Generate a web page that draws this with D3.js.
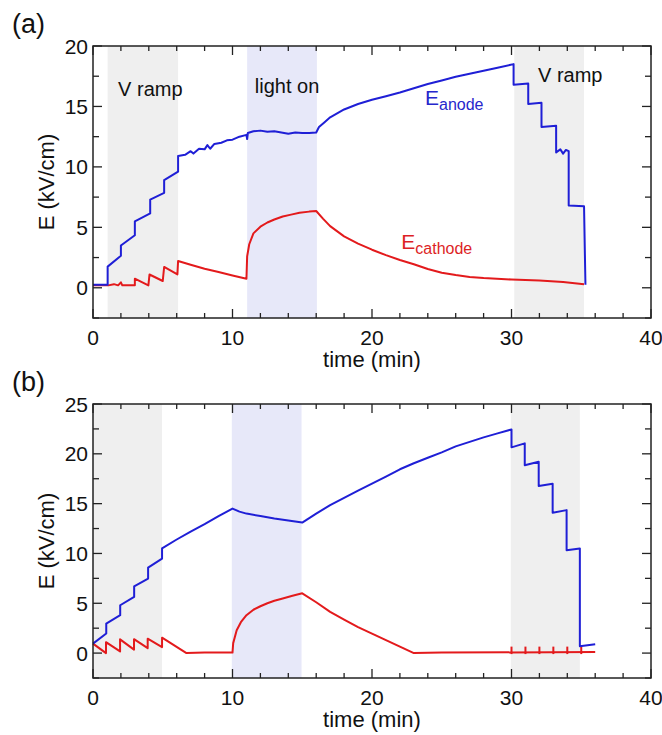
<!DOCTYPE html>
<html>
<head>
<meta charset="utf-8">
<script src="https://cdn.jsdelivr.net/npm/d3@7"></script>
<style>
  body { margin: 0; background: #fff; }
  svg { font-family: "Liberation Sans", Arial, sans-serif; }
</style>
</head>
<body>
<svg id="chart" width="662" height="735"></svg>
<script>
// ---- data (time in min, E in kV/cm) ----
var X_TICKS = [0, 10, 20, 30, 40];
var Y_TICKS_A = [0, 5, 10, 15, 20];
var Y_TICKS_B = [0, 5, 10, 15, 20, 25];

// shaded intervals [start, end, kind]
var bandsA = [[1.05, 6.1, "ramp"], [11.05, 16.05, "light"], [30.2, 35.2, "ramp"]];
var bandsB = [[0, 4.95, "ramp"], [9.95, 14.95, "light"], [29.95, 34.9, "ramp"]];

var anodeA = [
  [0, 0.25], [1.05, 0.25], [1.05, 1.75], [2.0, 2.65], [2.0, 3.5], [3.0, 4.35],
  [3.0, 5.5], [4.1, 6.15], [4.1, 7.3], [5.1, 7.85], [5.1, 8.9], [6.1, 9.6],
  [6.1, 10.9], [6.6, 11.0], [7.0, 11.3], [7.2, 11.1], [7.6, 11.5], [8.0, 11.45],
  [8.2, 11.8], [8.4, 11.5], [8.7, 11.9], [9.2, 12.0], [9.6, 12.2], [10.0, 12.25],
  [10.5, 12.5], [11.0, 12.65], [11.05, 12.3], [11.1, 12.8], [11.5, 12.95],
  [12.0, 13.0], [12.5, 12.9], [13.0, 12.95], [13.5, 12.85], [14.0, 12.75],
  [14.5, 12.85], [15.0, 12.8], [15.5, 12.8], [16.0, 12.85], [16.2, 13.3],
  [16.6, 13.7], [17, 14.1], [18, 14.75], [19, 15.2], [20, 15.55], [21, 15.85],
  [22, 16.15], [23, 16.5], [24, 16.85], [25, 17.15], [26, 17.45], [27, 17.7],
  [28, 17.95], [29, 18.2], [30.15, 18.5],
  [30.15, 16.8], [31.2, 16.9], [31.2, 15.2], [32.15, 15.3], [32.15, 13.3],
  [33.2, 13.4], [33.2, 11.2], [33.5, 11.45], [33.7, 11.1], [33.9, 11.4],
  [34.1, 11.3], [34.1, 6.8], [35.2, 6.75], [35.3, 0.25]
];

var cathodeA = [
  [0, 0.2], [1.1, 0.2], [1.5, 0.3], [1.8, 0.2], [2.0, 0.45], [2.1, 0.2],
  [3.0, 0.2], [3.0, 0.75], [3.97, 0.2], [4.05, 1.1], [5.0, 0.56], [5.1, 1.72],
  [6.05, 1.11], [6.1, 2.21], [7, 1.9], [8, 1.58], [9, 1.3], [10, 1.02],
  [11.0, 0.75], [11.05, 2.6], [11.2, 3.6], [11.5, 4.5], [12, 5.05], [12.5, 5.4],
  [13, 5.65], [13.6, 5.9], [14.2, 6.05], [14.8, 6.2], [15.5, 6.3], [16.0, 6.35],
  [16.5, 5.7], [17, 5.1], [18, 4.25], [19, 3.65], [20, 3.15], [21, 2.7],
  [22, 2.3], [23, 1.95], [24, 1.55], [25, 1.25], [26, 1.05], [27, 0.9],
  [28, 0.8], [30, 0.68], [32, 0.6], [33.7, 0.47], [35.2, 0.3]
];

var anodeB = [
  [0, 0.95], [0.95, 1.96], [0.95, 2.96], [1.95, 3.8], [1.95, 4.8], [2.95, 5.64],
  [2.95, 6.7], [3.95, 7.48], [3.95, 8.58], [4.95, 9.48], [4.95, 10.5],
  [6, 11.4], [7, 12.2], [8, 12.95], [9, 13.75], [10, 14.5],
  [10.5, 14.2], [11, 14.0], [12, 13.75], [13, 13.5], [14, 13.3], [15, 13.1],
  [16, 14.0], [17, 14.85], [18, 15.58], [19, 16.3], [20, 17.0], [21, 17.72],
  [22, 18.45], [23, 19.05], [24, 19.6], [25, 20.15], [26, 20.75], [27, 21.2],
  [28, 21.65], [29, 22.05], [30, 22.45],
  [30, 20.65], [30.95, 21.05], [30.95, 18.86], [31.95, 19.2], [31.95, 16.76],
  [32.95, 17.0], [32.95, 14.08], [33.95, 14.35], [33.95, 10.33], [34.9, 10.5],
  [34.9, 0.68], [36, 0.88]
];

var cathodeB = [
  [0, 0.95], [0.93, 0.0], [0.93, 1.1], [1.94, 0.17], [1.94, 1.38], [2.94, 0.35],
  [2.94, 1.4], [3.92, 0.5], [3.92, 1.45], [4.95, 0.6], [4.95, 1.55], [6.7, 0.0],
  [8, 0.05], [10, 0.05], [10.05, 1.0], [10.3, 2.3], [10.6, 3.1], [11, 3.8],
  [11.5, 4.35], [12, 4.7], [12.5, 5.0], [13, 5.25], [13.6, 5.48], [14.3, 5.75],
  [15, 6.0], [16, 5.1], [17, 4.13], [18, 3.35], [19, 2.6], [20, 1.95],
  [21, 1.3], [22, 0.65], [23, 0.0], [25, 0.05], [36, 0.1]
];
// small vertical glitches on the cathode trace during the second ramp
var spikeTimesB = [30, 31, 32, 33, 34, 35];
var spikeRangeB = [-0.1, 0.65];

var BLUE = "#1f1fd6", RED = "#e31a1c";
var BAND_FILL = { ramp: "#efefef", light: "#e7e8f9" };

var svg = d3.select("#chart");

function drawPanel(p) {
  var x = d3.scaleLinear().domain([0, 40]).range([p.left, p.right]);
  var y = d3.scaleLinear().domain(p.ydom).range([p.bottom, p.top]);
  var g = svg.append("g");

  g.selectAll(".band").data(p.bands).enter().append("rect")
    .attr("x", function(d) { return x(d[0]); })
    .attr("y", p.top)
    .attr("width", function(d) { return x(d[1]) - x(d[0]); })
    .attr("height", p.bottom - p.top)
    .attr("fill", function(d) { return BAND_FILL[d[2]]; });

  var line = d3.line()
    .x(function(d) { return x(d[0]); })
    .y(function(d) { return y(d[1]); });

  g.append("path").datum(p.cathode)
    .attr("d", line).attr("fill", "none")
    .attr("stroke", RED).attr("stroke-width", 2).attr("stroke-linejoin", "round");

  if (p.spikes) {
    g.selectAll(".spike").data(p.spikes).enter().append("line")
      .attr("x1", function(d) { return x(d); })
      .attr("x2", function(d) { return x(d); })
      .attr("y1", y(spikeRangeB[0]))
      .attr("y2", y(spikeRangeB[1]))
      .attr("stroke", RED).attr("stroke-width", 2);
  }

  g.append("path").datum(p.anode)
    .attr("d", line).attr("fill", "none")
    .attr("stroke", BLUE).attr("stroke-width", 2).attr("stroke-linejoin", "round");

  // axes: ticks pointing in, on all four sides
  var xMinor = d3.range(0, 41, 2);
  var yMinor = d3.range(p.ydom[0], p.ydom[1] + 0.01, 2.5);
  var ax = g.append("g").attr("stroke", "#222").attr("stroke-width", 1.3);
  xMinor.forEach(function(t) {
    var len = (t % 10 === 0) ? 9 : 5;
    ax.append("line").attr("x1", x(t)).attr("x2", x(t)).attr("y1", p.bottom).attr("y2", p.bottom - len);
    ax.append("line").attr("x1", x(t)).attr("x2", x(t)).attr("y1", p.top).attr("y2", p.top + len);
  });
  yMinor.forEach(function(v) {
    var len = (v % 5 === 0) ? 9 : 6;
    ax.append("line").attr("x1", p.left).attr("x2", p.left + len).attr("y1", y(v)).attr("y2", y(v));
    ax.append("line").attr("x1", p.right).attr("x2", p.right - len).attr("y1", y(v)).attr("y2", y(v));
  });
  g.append("rect")
    .attr("x", p.left).attr("y", p.top)
    .attr("width", p.right - p.left).attr("height", p.bottom - p.top)
    .attr("fill", "none").attr("stroke", "#222").attr("stroke-width", 1.5);

  g.selectAll(".xl").data(X_TICKS).enter().append("text")
    .attr("x", function(d) { return x(d); })
    .attr("y", p.bottom + 27)
    .attr("text-anchor", "middle").attr("font-size", 21).attr("fill", "#111")
    .text(function(d) { return d; });

  g.selectAll(".yl").data(p.yticks).enter().append("text")
    .attr("x", p.left - 5)
    .attr("y", function(d) { return y(d); })
    .attr("dy", "0.36em")
    .attr("text-anchor", "end").attr("font-size", 21).attr("fill", "#111")
    .text(function(d) { return d; });

  g.append("text")
    .attr("x", (p.left + p.right) / 2).attr("y", p.bottom + 49)
    .attr("text-anchor", "middle").attr("font-size", 22).attr("fill", "#111")
    .text("time (min)");

  g.append("text")
    .attr("transform", "translate(" + 54 + "," + ((p.top + p.bottom) / 2) + ") rotate(-90)")
    .attr("text-anchor", "middle").attr("font-size", 22).attr("fill", "#111")
    .text("E (kV/cm)");

  g.append("text")
    .attr("x", 12).attr("y", p.top - 13)
    .attr("font-size", 27).attr("fill", "#111")
    .text(p.tag);

  return { x: x, y: y, g: g };
}

var A = drawPanel({
  left: 93, right: 651, top: 46, bottom: 318, ydom: [-2.5, 20],
  yticks: Y_TICKS_A, bands: bandsA, anode: anodeA, cathode: cathodeA, tag: "(a)"
});

var B = drawPanel({
  left: 93, right: 651, top: 404, bottom: 678, ydom: [-2.5, 25],
  yticks: Y_TICKS_B, bands: bandsB, anode: anodeB, cathode: cathodeB,
  spikes: spikeTimesB, tag: "(b)"
});

// annotations in panel (a)
A.g.append("text").attr("x", A.x(1.8)).attr("y", A.y(15.9))
  .attr("font-size", 20).attr("fill", "#111").text("V ramp");
A.g.append("text").attr("x", A.x(11.6)).attr("y", A.y(16.1))
  .attr("font-size", 20).attr("fill", "#111").text("light on");
A.g.append("text").attr("x", A.x(31.9)).attr("y", A.y(17.0))
  .attr("font-size", 20).attr("fill", "#111").text("V ramp");

var la = A.g.append("text").attr("x", A.x(23.8)).attr("y", A.y(15.1))
  .attr("font-size", 21).attr("fill", "#2727cc");
la.append("tspan").text("E");
la.append("tspan").attr("dy", 5).attr("font-size", 16).text("anode");

var lc = A.g.append("text").attr("x", A.x(22.1)).attr("y", A.y(3.2))
  .attr("font-size", 21).attr("fill", "#dd1f26");
lc.append("tspan").text("E");
lc.append("tspan").attr("dy", 5).attr("font-size", 16).text("cathode");
</script>
</body>
</html>
